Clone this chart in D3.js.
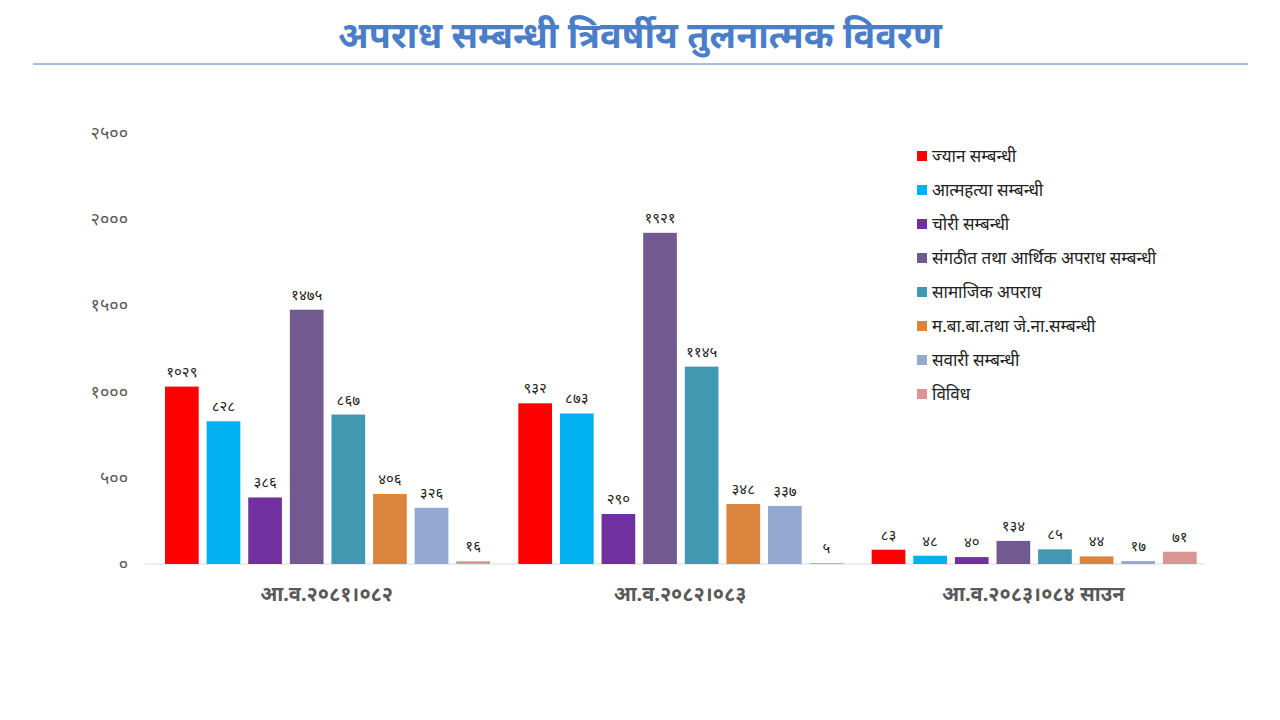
<!DOCTYPE html>
<html><head><meta charset="utf-8">
<script src="https://cdn.jsdelivr.net/npm/d3@7"></script>
<style>body{margin:0;background:#fff;font-family:"Noto Sans","DejaVu Sans",sans-serif}</style>
</head><body><svg id="c" width="1280" height="720"></svg>
<script>
var years = ["आ.व.२०८१।०८२", "आ.व.२०८२।०८३", "आ.व.२०८३।०८४ साउन"];
var categories = ["ज्यान सम्बन्धी", "आत्महत्या सम्बन्धी", "चोरी सम्बन्धी", "संगठीत तथा आर्थिक अपराध सम्बन्धी", "सामाजिक अपराध", "म.बा.बा.तथा जे.ना.सम्बन्धी", "सवारी सम्बन्धी", "विविध"];
var colors = ["#FF0000", "#00B0F0", "#7030A0", "#725A90", "#4298B0", "#DB843D", "#93A9D1", "#D99694"];
var values = [
  [1029, 828, 386, 1475, 867, 406, 326, 16],
  [932, 873, 290, 1921, 1145, 348, 337, 5],
  [83, 48, 40, 134, 85, 44, 17, 71]
];
var yTicks = [0, 500, 1000, 1500, 2000, 2500];

function dev(n) {
  return String(n).replace(/[0-9]/g, d => "०१२३४५६७८९"[+d]);
}

var svg = d3.select("#c");

svg.append("text").attr("x", 640).attr("y", 48).attr("text-anchor", "middle")
  .attr("font-size", 36).attr("font-weight", "bold").attr("fill", "#4A7EC8")
  .text("अपराध सम्बन्धी त्रिवर्षीय तुलनात्मक विवरण");
svg.append("line").attr("x1", 33).attr("x2", 1248).attr("y1", 64).attr("y2", 64)
  .attr("stroke", "#4A7EC8").attr("stroke-width", 1);

var x0 = d3.scaleBand().domain(years).range([145, 1205]);
var x1 = d3.scaleBand().domain(d3.range(8)).range([20, 345]).paddingInner(0.19);
var y = d3.scaleLinear().domain([0, 2500]).range([564, 133]);

svg.append("g").selectAll("text").data(yTicks).join("text")
  .attr("x", 128).attr("y", d => y(d) + 6).attr("text-anchor", "end")
  .attr("font-size", 18).attr("fill", "#595959").text(d => dev(d));

svg.append("line").attr("x1", 145).attr("x2", 1205).attr("y1", 564).attr("y2", 564)
  .attr("stroke", "#d9d9d9");

years.forEach(function(yr, i) {
  var g = svg.append("g").attr("transform", "translate(" + x0(yr) + ",0)");
  g.selectAll("rect").data(values[i]).join("rect")
    .attr("x", (d, j) => x1(j)).attr("width", x1.bandwidth())
    .attr("y", d => y(d)).attr("height", d => 564 - y(d))
    .attr("fill", (d, j) => colors[j]);
  g.selectAll("text").data(values[i]).join("text")
    .attr("x", (d, j) => x1(j) + x1.bandwidth() / 2).attr("y", d => y(d) - 10)
    .attr("text-anchor", "middle").attr("font-size", 15).attr("fill", "#222")
    .text(d => dev(d));
  svg.append("text").attr("x", x0(yr) + x0.bandwidth() / 2 + 5).attr("y", 601)
    .attr("text-anchor", "middle").attr("font-size", 20).attr("font-weight", "bold")
    .attr("fill", "#595959").text(yr);
});

var lg = svg.append("g").selectAll("g").data(categories).join("g")
  .attr("transform", (d, i) => "translate(917," + (156 + i * 34) + ")");
lg.append("rect").attr("x", 0).attr("y", -5).attr("width", 10).attr("height", 10)
  .attr("fill", (d, i) => colors[i]);
lg.append("text").attr("x", 15).attr("y", 6).attr("font-size", 17).attr("fill", "#222")
  .text(d => d);
</script></body></html>
